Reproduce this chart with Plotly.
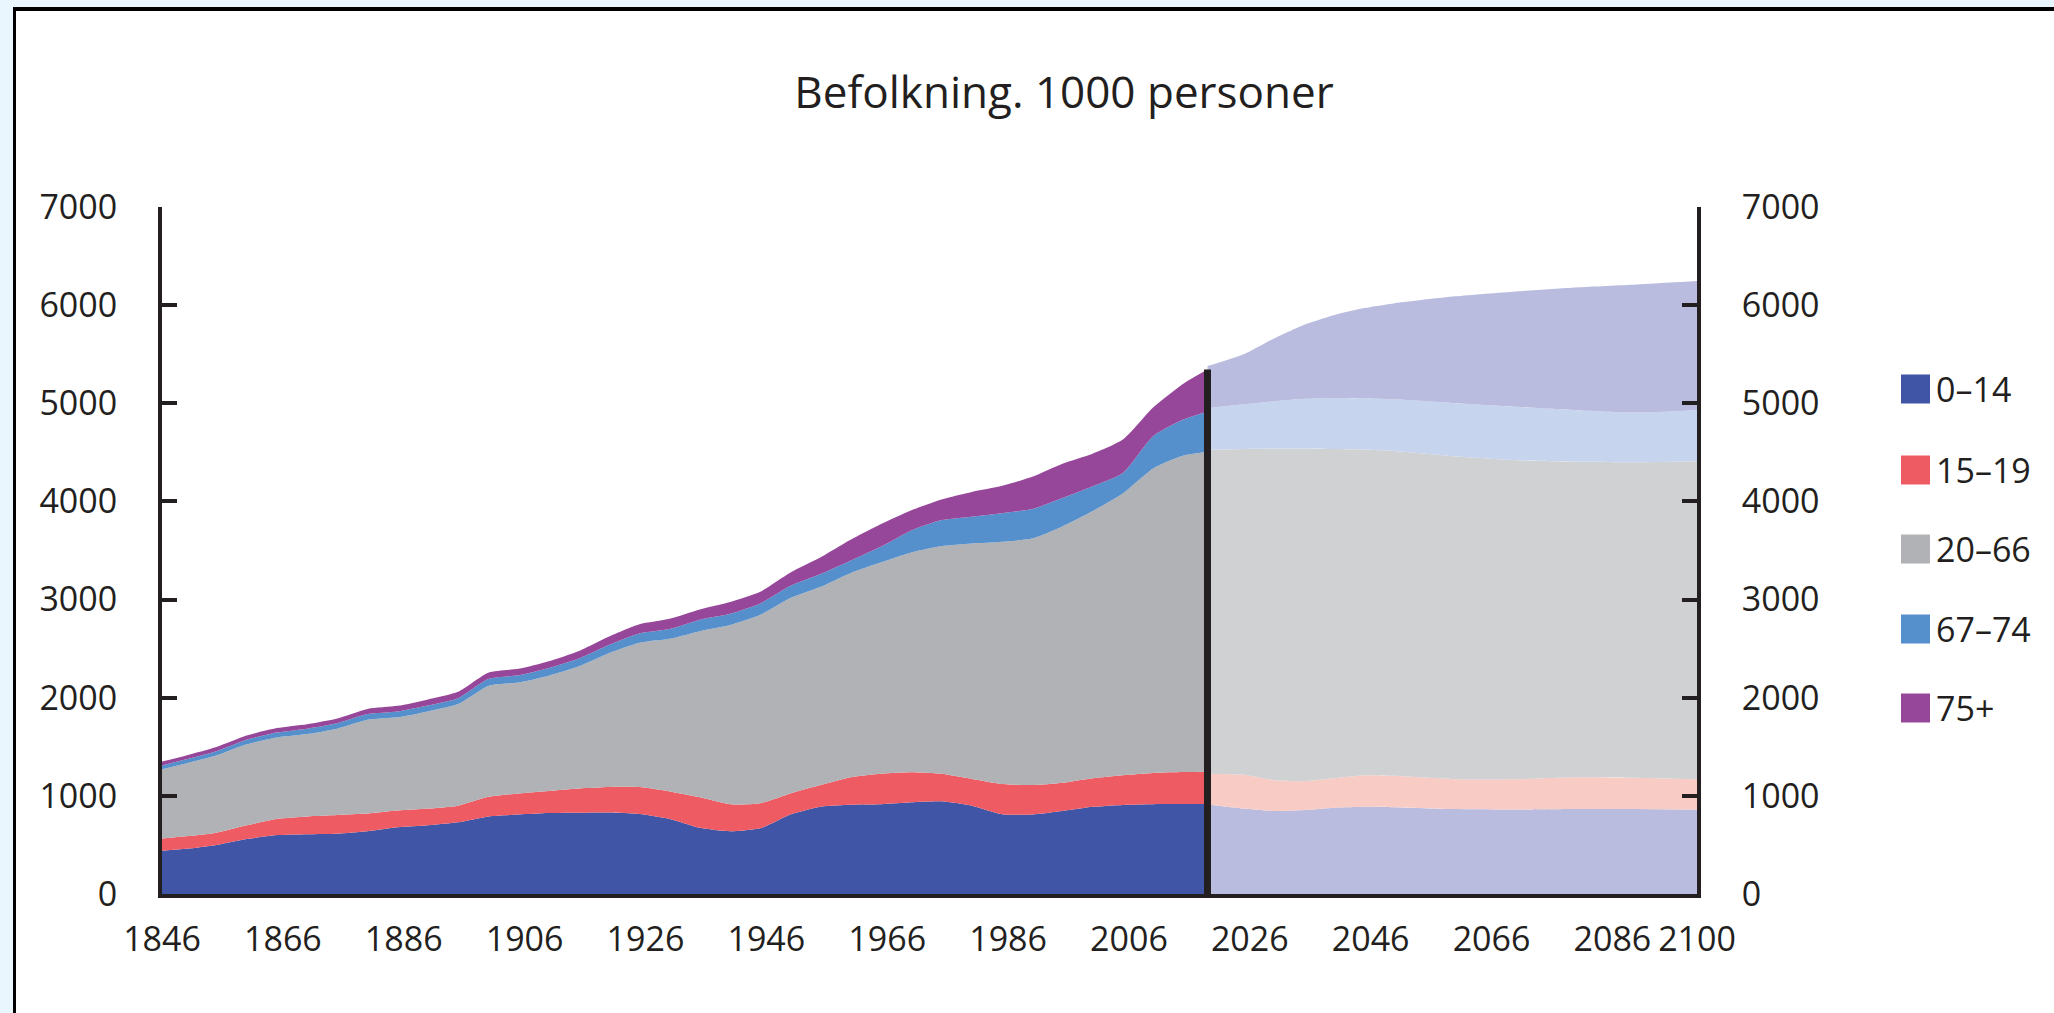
import plotly.graph_objects as go

# ---------------- data (1000 persons) ----------------
hist_years = [1846, 1850, 1855, 1860, 1865, 1870, 1875, 1880, 1885, 1890, 1895,
              1900, 1905, 1910, 1915, 1920, 1925, 1930, 1935, 1940, 1945, 1950,
              1955, 1960, 1965, 1970, 1975, 1980, 1985, 1990, 1995, 2000, 2005,
              2010, 2015, 2019]
hist_0_14 = [440, 460, 500, 560, 600, 610, 615, 640, 680, 700, 730,
             790, 810, 825, 828, 830, 815, 765, 675, 640, 670, 811,
             890, 910, 915, 935, 945, 900, 812, 810, 845, 888, 908,
             915, 916, 916]
hist_15_19 = [125, 128, 125, 140, 165, 180, 190, 180, 170, 170, 170,
              200, 215, 225, 247, 260, 274, 280, 311, 275, 255, 214,
              220, 280, 310, 305, 280, 273, 310, 300, 289, 292, 303,
              319, 327, 330]
hist_20_66 = [707, 742, 785, 825, 830, 840, 880, 955, 950, 990, 1035,
              1130, 1130, 1175, 1245, 1365, 1471, 1555, 1692, 1825, 1920, 1990,
              2020, 2082, 2155, 2240, 2320, 2399, 2468, 2512, 2611, 2722, 2869,
              3101, 3224, 3260]
hist_67_74 = [38, 42, 45, 47, 50, 55, 55, 58, 60, 60, 60,
              70, 73, 78, 80, 85, 95, 100, 117, 115, 115, 125,
              130, 125, 160, 225, 265, 273, 290, 300, 290, 253, 210,
              330, 368, 408]
hist_75p = [39, 39, 42, 42, 46, 45, 49, 53, 57, 63, 66,
            65, 66, 69, 77, 84, 94, 105, 105, 120, 120, 135,
            170, 214, 230, 205, 210, 252, 280, 330, 350, 331, 340,
            292, 365, 430]

proj_years = [2019, 2025, 2030, 2035, 2040, 2045, 2050, 2060, 2070, 2080, 2090, 2100]
proj_0_14 = [912, 870, 845, 855, 880, 890, 885, 865, 860, 865, 865, 860]
proj_15_19 = [313, 345, 315, 295, 300, 320, 320, 305, 310, 325, 320, 310]
proj_20_66 = [3302, 3320, 3380, 3390, 3355, 3320, 3310, 3290, 3250, 3215, 3215, 3240]
proj_67_74 = [422, 455, 480, 505, 520, 520, 525, 540, 545, 525, 505, 520]
proj_75p = [431, 510, 640, 755, 845, 920, 980, 1090, 1175, 1250, 1305, 1315]

groups = ["0\u201314", "15\u201319", "20\u201366", "67\u201374", "75+"]
x_ticks = [1846, 1866, 1886, 1906, 1926, 1946, 1966, 1986, 2006, 2026, 2046, 2066, 2086, 2100]
y_ticks = [0, 1000, 2000, 3000, 4000, 5000, 6000, 7000]
split_year = 2019

# ---------------- styling ----------------
hist_colors = ["#4055A5", "#EE5B63", "#B1B2B5", "#5590CC", "#964799"]
proj_colors = ["#B9BCDF", "#F8CBC5", "#D0D1D3", "#C6D4EE", "#B9BCDF"]
INK = "#231F20"
FONT = "Open Sans"

W, H = 2054, 1013
L, R, T, B = 162, 1697, 207, 894


def px(x):
    return (x - L) / (R - L)


def py(y):
    return (B - y) / (B - T)


fig = go.Figure()

hist_series = [hist_0_14, hist_15_19, hist_20_66, hist_67_74, hist_75p]
proj_series = [proj_0_14, proj_15_19, proj_20_66, proj_67_74, proj_75p]

for name, vals, col in zip(groups, hist_series, hist_colors):
    fig.add_trace(go.Scatter(
        x=hist_years, y=vals, name=name, stackgroup="hist", mode="lines",
        line=dict(width=0, shape="spline", smoothing=0.6), fillcolor=col,
        showlegend=False, hoverinfo="x+y+name"))

for name, vals, col in zip(groups, proj_series, proj_colors):
    fig.add_trace(go.Scatter(
        x=proj_years, y=vals, name=name + " (framskriving)", stackgroup="proj", mode="lines",
        line=dict(width=0, shape="spline", smoothing=0.6), fillcolor=col,
        showlegend=False, hoverinfo="x+y+name"))

total_split = sum(s[-1] for s in hist_series)
fig.add_trace(go.Scatter(
    x=[split_year, split_year], y=[0, total_split], mode="lines",
    line=dict(color=INK, width=7), yaxis="y2", showlegend=False, hoverinfo="skip"))

shapes = [
    # white page with black top/left frame
    dict(type="rect", xref="paper", yref="paper", x0=px(16), x1=px(2080), y0=py(11), y1=py(1040),
         fillcolor="white", line=dict(width=0), layer="below"),
    dict(type="rect", xref="paper", yref="paper", x0=px(13), x1=px(16), y0=py(7), y1=py(1040),
         fillcolor="black", line=dict(width=0), layer="below"),
    dict(type="rect", xref="paper", yref="paper", x0=px(13), x1=px(2080), y0=py(7), y1=py(11),
         fillcolor="black", line=dict(width=0), layer="below"),
]

annotations = []
leg_y = [389, 470, 549, 629, 708]
for name, col, yc in zip(groups, hist_colors, leg_y):
    shapes.append(dict(type="rect", xref="paper", yref="paper",
                       x0=px(1901), x1=px(1930), y0=py(yc + 14.5), y1=py(yc - 14.5),
                       fillcolor=col, line=dict(width=0)))
    annotations.append(dict(text=name, xref="paper", yref="paper", x=px(1934), y=py(yc),
                            xanchor="left", yanchor="middle", showarrow=False,
                            font=dict(family=FONT, size=34, color=INK)))

axis_common = dict(showgrid=False, zeroline=False, showline=True, linecolor=INK, linewidth=4,
                   automargin=False)

fig.update_layout(
    template="none",
    width=W, height=H,
    margin=dict(l=L, r=W - R, t=T, b=H - B, pad=0, autoexpand=False),
    paper_bgcolor="#EAF6FE", plot_bgcolor="white",
    title=dict(text="Befolkning. 1000 personer", xref="container", yref="container",
               x=1064 / W, y=1 - 93 / H, xanchor="center", yanchor="middle",
               font=dict(family=FONT, size=44, color=INK)),
    xaxis=dict(range=[1846, 2100], tickmode="array", tickvals=x_ticks,
               ticktext=[str(v) for v in x_ticks], ticks="", ticklabelstandoff=12,
               tickfont=dict(family=FONT, size=34, color=INK), **axis_common),
    yaxis=dict(range=[0, 7000], tickmode="array", tickvals=y_ticks,
               ticks="inside", ticklen=15, tickwidth=4, tickcolor=INK, ticklabelstandoff=34,
               tickfont=dict(family=FONT, size=34, color=INK), **axis_common),
    yaxis2=dict(range=[0, 7000], overlaying="y", side="right", tickmode="array", tickvals=y_ticks,
                ticks="inside", ticklen=15, tickwidth=4, tickcolor=INK, ticklabelstandoff=34,
                tickfont=dict(family=FONT, size=34, color=INK), **axis_common),
    shapes=shapes,
    annotations=annotations,
    showlegend=False,
)

fig.write_html(
    "out.html",
    config={"displayModeBar": False},
    post_script="document.body.style.margin='0';document.body.style.overflow='hidden';",
)
